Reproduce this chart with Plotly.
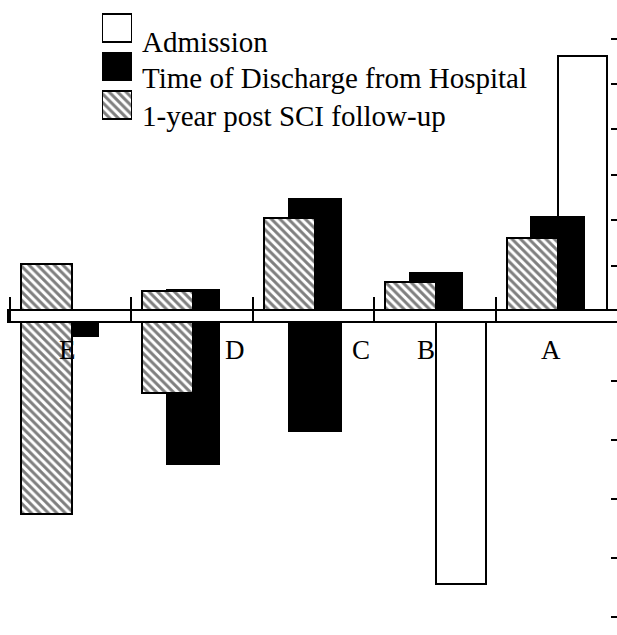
import plotly.graph_objects as go

# ---- data ----
categories = ["E", "D", "C", "B", "A"]
series_names = ["Admission", "Time of Discharge from Hospital", "1-year post SCI follow-up"]
admission_pos = [None, None, None, None, 5.62]
admission_neg = [None, None, None, -4.44, None]
discharge_pos = [None, 0.46, 2.46, 0.84, 2.06]
discharge_neg = [-0.24, -2.41, -1.85, None, None]
followup_pos = [1.03, 0.44, 2.04, 0.64, 1.61]
followup_neg = [-3.25, -1.20, None, None, None]
top_ticks = [1, 2, 3, 4, 5, 6]
bottom_ticks = [-1, -2, -3, -4, -5]

W, H = 617, 635
ML = 10
FONT = "Liberation Serif, Times New Roman, serif"

xs = list(range(len(categories)))

def py(ref_y):
    return (H - ref_y) / H

def pxp(ref_x):
    return (ref_x - ML) / (W - ML)

top_dom = [py(311), 1.0]
bot_dom = [0.0, py(322)]
top_range = [0, 311 / 45.4]
bot_range = [-(H - 322) / 59.0, 0]

hatch = dict(shape="\\", size=6, solidity=0.5, fgcolor="black", bgcolor="white")
styles = [
    dict(color="white", line=dict(color="black", width=2)),
    dict(color="black", line=dict(color="black", width=2)),
    dict(color="white", line=dict(color="black", width=2), pattern=hatch),
]
offsets = [0.215 - 0.205, 0.01 - 0.215, -0.2 - 0.21]
widths = [0.41, 0.43, 0.42]

fig = go.Figure()
pos_series = [admission_pos, discharge_pos, followup_pos]
neg_series = [admission_neg, discharge_neg, followup_neg]
for i in range(3):
    fig.add_trace(go.Bar(x=xs, y=pos_series[i], name=series_names[i], marker=styles[i],
                         offset=offsets[i], width=widths[i], xaxis="x", yaxis="y",
                         showlegend=False, hoverinfo="skip"))
    fig.add_trace(go.Bar(x=xs, y=neg_series[i], name=series_names[i], marker=styles[i],
                         offset=offsets[i], width=widths[i], xaxis="x", yaxis="y2",
                         showlegend=False, hoverinfo="skip"))

# legend swatches on their own small axes
for i in range(3):
    fig.add_trace(go.Bar(x=[1], y=[i], orientation="h", marker=styles[i], width=0.727,
                         xaxis="x3", yaxis="y3", showlegend=False, hoverinfo="skip"))

legend_text_y = [42, 78, 116]
annotations = []
for i, name in enumerate(series_names):
    annotations.append(dict(text=name, x=pxp(140), xref="paper", xanchor="left",
                            y=py(legend_text_y[i]), yref="paper", yanchor="middle",
                            showarrow=False, font=dict(family=FONT, size=29, color="black")))

label_shift = [-0.03, 0.35, 0.39, -0.07, -0.04]
for i, c in enumerate(categories):
    annotations.append(dict(text=c, x=xs[i] + label_shift[i], xref="x", xanchor="center",
                            y=py(350), yref="paper", yanchor="middle", showarrow=False,
                            font=dict(family=FONT, size=27, color="black")))

fig.update_layout(
    width=W, height=H, margin=dict(l=ML, r=0, t=0, b=0),
    paper_bgcolor="white", plot_bgcolor="white",
    barmode="overlay", bargap=0,
    xaxis=dict(domain=[0, 1], range=[-0.5, len(categories) - 0.5], anchor="y2", side="top",
               tickmode="array", tickvals=[k - 0.5 for k in xs], ticks="outside", ticklen=24,
               tickwidth=2, tickcolor="black", showticklabels=False, showgrid=False,
               zeroline=False, showline=False, fixedrange=True),
    yaxis=dict(domain=top_dom, range=top_range, side="right", anchor="x",
               tickmode="array", tickvals=top_ticks, ticks="inside", ticklen=6, tickwidth=2,
               tickcolor="black", showticklabels=False, showgrid=False, zeroline=False,
               showline=False, fixedrange=True),
    yaxis2=dict(domain=bot_dom, range=bot_range, side="right", anchor="x",
                tickmode="array", tickvals=bottom_ticks, ticks="inside", ticklen=6, tickwidth=2,
                tickcolor="black", showticklabels=False, showgrid=False, zeroline=False,
                showline=False, fixedrange=True),
    xaxis3=dict(domain=[pxp(102), pxp(132)], range=[0, 1], anchor="y3", visible=False,
                fixedrange=True),
    yaxis3=dict(domain=[py(135), 1], range=[(135 - 28) / 38.5, -28 / 38.5],
                anchor="x3", visible=False, fixedrange=True),
    annotations=annotations,
    shapes=[dict(type="rect", xref="paper", yref="paper", x0=pxp(8), x1=1.02,
                 y0=py(322), y1=py(310), line=dict(color="black", width=2),
                 fillcolor="rgba(0,0,0,0)", layer="above")],
)

# remove the default 8px page margin so the 617x635 figure fills the window exactly
fig.write_html("out.html", config={"displayModeBar": False},
               post_script="document.body.style.margin='0';document.body.style.overflow='hidden';")
